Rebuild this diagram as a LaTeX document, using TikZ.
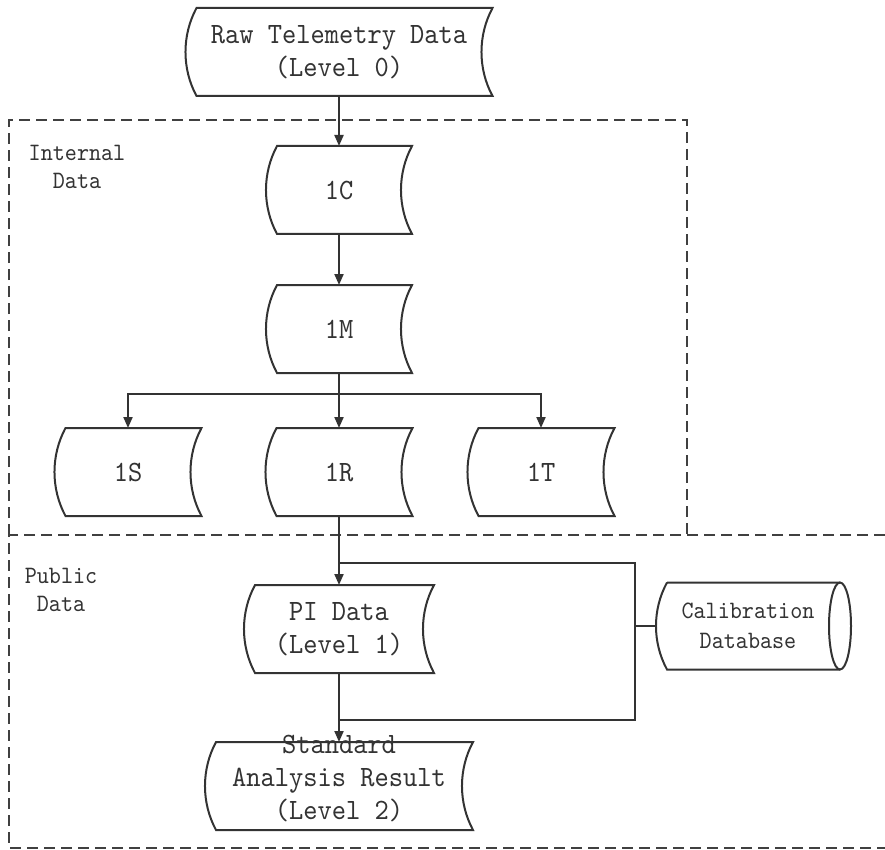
\documentclass[tikz,border=0pt]{standalone}
\usepackage{fontspec}
\setmainfont[FakeStretch=0.92]{lmmono10-regular.otf}
\usetikzlibrary{calc,arrows.meta}

\tikzset{
  stored/.style={minimum width=#1, minimum height=88, inner sep=0pt, outer sep=0pt,
    align=center, text=black!80, font=\fontsize{29.5}{33}\selectfont},
  dbase/.style={minimum width=184, minimum height=87, inner sep=0pt, outer sep=0pt,
    align=center, text=black!80, font=\fontsize{25}{30}\selectfont},
  lab/.style={align=center, inner sep=0pt, text=black!80, font=\fontsize{25}{28}\selectfont},
  region/.style={dash pattern=on 11pt off 6pt, line width=1.5pt, draw=black!75},
  flow/.style={line width=2pt, draw=black!80},
}

\begin{document}
\begin{tikzpicture}[x=1pt,y=-1pt,>={Triangle[length=11pt,width=9pt]}]
\useasboundingbox (0,0) rectangle (885,850);

% regions
\draw[region] (9,535) |- (687,120) -- (687,535);
\draw[region] (885,535) -- (9,535) -- (9,848) -- (885,848);
\node[lab] (intl) at (77,167) {Internal\\Data};
\node[lab] (publ) at (61,590) {Public\\Data};

% data sets
\node[stored=307] (raw) at (339,52) {Raw Telemetry Data\\(Level 0)};
\node[stored=146] (c) at (339,190) {1C};
\node[stored=146] (m) at (339,329) {1M};
\node[stored=147] (s) at (128,472) {1S};
\node[stored=147] (r) at (339,472) {1R};
\node[stored=147] (t) at (541,472) {1T};
\node[stored=190] (pi) at (339,629) {PI Data\\(Level 1)};
\node[stored=268] (std) at (339,786)
  {\smash{\begin{tabular}{@{}c@{}}Standard\\Analysis Result\\(Level 2)\end{tabular}}};
\node[dbase] (cal) at (748,626) {Calibration\\Database};

\foreach \n in {raw,c,m,s,r,t,pi,std}
  \draw[flow] ($(\n.north west)+(11,0)$) -- (\n.north east)
    .. controls ($(\n.north east)!0.31!(\n.south east)+(-14.7,0)$)
       and ($(\n.north east)!0.69!(\n.south east)+(-14.7,0)$) .. (\n.south east)
    -- ($(\n.south west)+(11,0)$)
    .. controls ($(\n.south west)!0.31!(\n.north west)+(-3.7,0)$)
       and ($(\n.south west)!0.69!(\n.north west)+(-3.7,0)$) .. ($(\n.north west)+(11,0)$) -- cycle;

\draw[flow] ($(cal.north west)+(11,0)$) -- (cal.north east)
  (cal.south east) -- ($(cal.south west)+(11,0)$)
  .. controls ($(cal.south west)!0.31!(cal.north west)+(-3.7,0)$)
     and ($(cal.south west)!0.69!(cal.north west)+(-3.7,0)$) .. ($(cal.north west)+(11,0)$);
\draw[flow] (cal.east) ellipse [x radius=11, y radius=43.5];

% flow
\coordinate (br) at (339,394);
\coordinate (jn1) at (339,563);
\coordinate (jn2) at (339,720);
\coordinate (bus) at (635,626);

\draw[flow,->] (raw.south) -- (c.north);
\draw[flow,->] (c.south) -- (m.north);
\draw[flow] (m.south) -- (br);
\foreach \x in {s,r,t}
  \draw[flow,->] (br) -| (\x.north);
\draw[flow,->] (r.south) -- (pi.north);
\draw[flow,->] (pi.south) -- (std.north);
\draw[flow] (jn1) -| (bus) |- (jn2);
\draw[flow] (cal.west) -- (bus);

\end{tikzpicture}
\end{document}
